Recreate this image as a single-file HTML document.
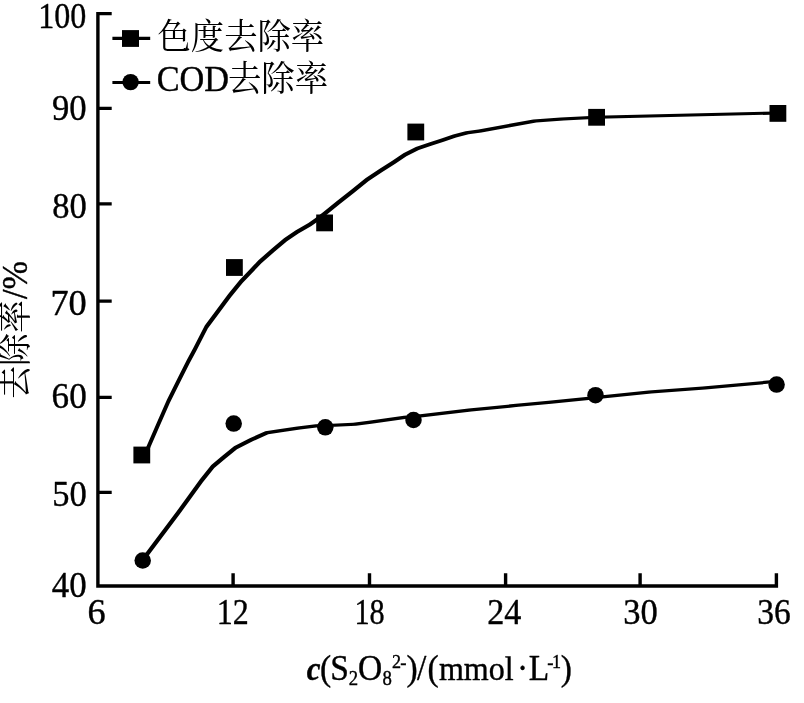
<!DOCTYPE html>
<html lang="zh">
<head>
<meta charset="utf-8">
<title>去除率</title>
<style>
html,body{margin:0;padding:0;background:#fff;}
body{width:804px;height:703px;overflow:hidden;}
svg{display:block;}
text{font-family:"Liberation Serif","Noto Serif CJK SC",serif;font-size:100px;fill:#000;}
.l{stroke:#000;stroke-width:1.1px;stroke-linejoin:round;}
</style>
</head>
<body>
<svg width="804" height="703" viewBox="0 0 804 703">
<rect width="804" height="703" fill="#fff"/>
<g fill="#000">
<path d="M96.20 12.10H99.60V587.70H96.20ZM96.20 584.30H778.10V587.70H96.20ZM97.90 12.10H111.70V15.30H97.90ZM97.90 106.70H111.70V109.90H97.90ZM97.90 202.30H111.70V205.50H97.90ZM97.90 299.50H111.70V302.70H97.90ZM97.90 395.70H111.70V398.90H97.90ZM97.90 490.70H111.70V493.90H97.90ZM231.40 573.30H234.80V586.00H231.40ZM367.80 573.30H371.20V586.00H367.80ZM503.90 573.30H507.30V586.00H503.90ZM638.40 573.30H641.80V586.00H638.40ZM774.70 573.30H778.10V586.00H774.70Z"/>
<path d="M143.40 453.50L147.00 445.30L150.00 445.30L150.00 448.30L146.40 456.50L143.40 456.50ZM147.00 445.30L156.90 422.50L159.90 422.50L159.90 425.50L150.00 448.30L147.00 448.30ZM156.90 422.50L166.90 399.80L169.90 399.80L169.90 402.80L159.90 425.50L156.90 425.50ZM166.90 399.80L177.60 378.30L180.60 378.30L180.60 381.30L169.90 402.80L166.90 402.80ZM177.60 378.30L186.80 360.00L189.80 360.00L189.80 363.00L180.60 381.30L177.60 381.30ZM186.80 360.00L193.40 347.70L196.40 347.70L196.40 350.70L189.80 363.00L186.80 363.00ZM193.40 347.70L204.80 325.40L207.80 325.40L207.80 328.40L196.40 350.70L193.40 350.70ZM204.80 325.40L215.40 311.20L218.40 311.20L218.40 314.20L207.80 328.40L204.80 328.40ZM215.40 311.20L228.20 294.10L231.20 294.10L231.20 297.10L218.40 314.20L215.40 314.20ZM228.20 294.10L239.60 279.90L242.60 279.90L242.60 282.90L231.20 297.10L228.20 297.10ZM239.60 279.90L245.60 273.80L248.60 273.80L248.60 276.80L242.60 282.90L239.60 282.90ZM245.60 273.80L258.40 260.30L261.40 260.30L261.40 263.30L248.60 276.80L245.60 276.80ZM258.40 260.30L271.20 249.00L274.20 249.00L274.20 252.00L261.40 263.30L258.40 263.30ZM271.20 249.00L284.00 238.30L287.00 238.30L287.00 241.30L274.20 252.00L271.20 252.00ZM284.00 238.30L295.40 230.50L298.40 230.50L298.40 233.50L287.00 241.30L284.00 241.30ZM295.40 230.50L308.40 222.90L311.40 222.90L311.40 225.90L298.40 233.50L295.40 233.50ZM308.40 222.90L315.50 218.00L318.50 218.00L318.50 221.00L311.40 225.90L308.40 225.90ZM315.50 218.00L322.70 212.40L325.70 212.40L325.70 215.40L318.50 221.00L315.50 221.00ZM322.70 212.40L336.90 201.00L339.90 201.00L339.90 204.00L325.70 215.40L322.70 215.40ZM336.90 201.00L351.20 189.70L354.20 189.70L354.20 192.70L339.90 204.00L336.90 204.00ZM351.20 189.70L365.40 178.30L368.40 178.30L368.40 181.30L354.20 192.70L351.20 192.70ZM365.40 178.30L379.30 168.90L382.30 168.90L382.30 171.90L368.40 181.30L365.40 181.30ZM379.30 168.90L392.30 160.70L395.30 160.70L395.30 163.70L382.30 171.90L379.30 171.90ZM392.30 160.70L403.40 153.30L406.40 153.30L406.40 156.30L395.30 163.70L392.30 163.70ZM403.40 153.30L415.80 147.10L418.80 147.10L418.80 150.10L406.40 156.30L403.40 156.30ZM415.80 147.10L428.30 142.70L431.30 142.70L431.30 145.70L418.80 150.10L415.80 150.10ZM428.30 142.70L440.70 138.80L443.70 138.80L443.70 141.80L431.30 145.70L428.30 145.70ZM440.70 138.80L453.10 134.60L456.10 134.60L456.10 137.60L443.70 141.80L440.70 141.80ZM453.10 134.60L465.60 131.20L468.60 131.20L468.60 134.20L456.10 137.60L453.10 137.60ZM465.60 131.20L478.50 129.40L481.50 129.40L481.50 132.40L468.60 134.20L465.60 134.20ZM478.50 129.40L505.90 124.40L508.90 124.40L508.90 127.40L481.50 132.40L478.50 132.40ZM505.90 124.40L533.30 119.40L536.30 119.40L536.30 122.40L508.90 127.40L505.90 127.40ZM533.30 119.40L560.70 117.50L563.70 117.50L563.70 120.50L536.30 122.40L533.30 122.40ZM560.70 117.50L595.10 115.80L598.10 115.80L598.10 118.80L563.70 120.50L560.70 120.50ZM595.10 115.80L776.40 111.50L779.40 111.50L779.40 114.50L598.10 118.80L595.10 118.80Z"/>
<path d="M140.80 559.00L146.30 551.70L149.30 551.70L149.30 554.70L143.80 562.00L140.80 562.00ZM146.30 551.70L176.90 511.00L179.90 511.00L179.90 514.00L149.30 554.70L146.30 554.70ZM176.90 511.00L188.50 495.00L191.50 495.00L191.50 498.00L179.90 514.00L176.90 514.00ZM188.50 495.00L199.90 479.20L202.90 479.20L202.90 482.20L191.50 498.00L188.50 498.00ZM199.90 479.20L211.30 465.10L214.30 465.10L214.30 468.10L202.90 482.20L199.90 482.20ZM211.30 465.10L222.60 455.40L225.60 455.40L225.60 458.40L214.30 468.10L211.30 468.10ZM222.60 455.40L234.00 446.20L237.00 446.20L237.00 449.20L225.60 458.40L222.60 458.40ZM234.00 446.20L249.70 438.30L252.70 438.30L252.70 441.30L237.00 449.20L234.00 449.20ZM249.70 438.30L265.30 431.20L268.30 431.20L268.30 434.20L252.70 441.30L249.70 441.30ZM265.30 431.20L278.50 429.30L281.50 429.30L281.50 432.30L268.30 434.20L265.30 434.20ZM278.50 429.30L297.20 426.40L300.20 426.40L300.20 429.40L281.50 432.30L278.50 432.30ZM297.20 426.40L315.60 424.20L318.60 424.20L318.60 427.20L300.20 429.40L297.20 429.40ZM315.60 424.20L332.00 423.70L335.00 423.70L335.00 426.70L318.60 427.20L315.60 427.20ZM332.00 423.70L353.10 422.70L356.10 422.70L356.10 425.70L335.00 426.70L332.00 426.70ZM353.10 422.70L368.50 420.80L371.50 420.80L371.50 423.80L356.10 425.70L353.10 425.70ZM368.50 420.80L403.90 415.80L406.90 415.80L406.90 418.80L371.50 423.80L368.50 423.80ZM403.90 415.80L420.10 414.20L423.10 414.20L423.10 417.20L406.90 418.80L403.90 418.80ZM420.10 414.20L468.50 408.60L471.50 408.60L471.50 411.60L423.10 417.20L420.10 417.20ZM468.50 408.60L513.20 404.10L516.20 404.10L516.20 407.10L471.50 411.60L468.50 411.60ZM513.20 404.10L548.50 400.80L551.50 400.80L551.50 403.80L516.20 407.10L513.20 407.10ZM548.50 400.80L585.80 397.10L588.80 397.10L588.80 400.10L551.50 403.80L548.50 403.80ZM585.80 397.10L602.20 395.20L605.20 395.20L605.20 398.20L588.80 400.10L585.80 400.10ZM602.20 395.20L648.50 390.60L651.50 390.60L651.50 393.60L605.20 398.20L602.20 398.20ZM648.50 390.60L702.50 386.40L705.50 386.40L705.50 389.40L651.50 393.60L648.50 393.60ZM702.50 386.40L767.20 380.60L770.20 380.60L770.20 383.60L705.50 389.40L702.50 389.40ZM767.20 380.60L775.10 379.90L778.10 379.90L778.10 382.90L770.20 383.60L767.20 383.60Z"/>
</g>
<g fill="#000">
<rect x="133.4" y="446.6" width="16.8" height="16.8"/><rect x="226.0" y="259.1" width="16.8" height="16.8"/><rect x="316.2" y="214.5" width="16.8" height="16.8"/><rect x="407.4" y="123.6" width="16.8" height="16.8"/><rect x="588.2" y="108.9" width="16.8" height="16.8"/><rect x="769.5" y="105.0" width="16.8" height="16.8"/><circle cx="142.7" cy="560.5" r="8.25"/><circle cx="233.7" cy="423.6" r="8.25"/><circle cx="325.3" cy="427.3" r="8.25"/><circle cx="413.5" cy="420.0" r="8.25"/><circle cx="595.5" cy="395.2" r="8.25"/><circle cx="776.6" cy="384.6" r="8.25"/>
</g>
<g stroke="#000" stroke-width="3.2"><path d="M112.4 38.4H150.2M112.4 82.5H150.2"/></g>
<rect x="122" y="30.1" width="17" height="16.8"/>
<circle cx="130.6" cy="82.1" r="8.2"/>
<text class="l" transform="matrix(0.3204 0 0 0.3650 38.32 27.50)">100</text>
<text class="l" transform="matrix(0.3462 0 0 0.3650 51.96 120.30)">90</text>
<text class="l" transform="matrix(0.3446 0 0 0.3650 52.22 218.10)">80</text>
<text class="l" transform="matrix(0.3629 0 0 0.3650 50.46 314.50)">70</text>
<text class="l" transform="matrix(0.3511 0 0 0.3650 51.60 408.30)">60</text>
<text class="l" transform="matrix(0.3444 0 0 0.3650 52.23 505.50)">50</text>
<text class="l" transform="matrix(0.3479 0 0 0.3650 51.80 597.10)">40</text>
<text class="l" transform="matrix(0.3628 0 0 0.3650 87.45 623.60)">6</text>
<text class="l" transform="matrix(0.3200 0 0 0.3650 216.72 623.60)">12</text>
<text class="l" transform="matrix(0.3023 0 0 0.3650 354.38 623.60)">18</text>
<text class="l" transform="matrix(0.3415 0 0 0.3650 487.23 623.60)">24</text>
<text class="l" transform="matrix(0.3451 0 0 0.3650 623.37 623.60)">30</text>
<text class="l" transform="matrix(0.3348 0 0 0.3650 757.33 623.60)">36</text>
<text transform="matrix(0.3335 0 0 0.3500 157.50 49.20)">色度去除率</text>
<text class="l" transform="matrix(0.3429 0 0 0.365 0 91.2)"><tspan x="457.1" y="0.0" style="font-size:100.0px;">COD</tspan><tspan x="664.7" y="0.5" style="font-size:97.4px;stroke:none">去除率</tspan></text>
<text class="l" transform="matrix(0.335 0 0 0.36 0 679.6)"><tspan x="915.8" y="0.0" style="font-size:92.4px;font-style:italic;font-weight:bold">c</tspan><tspan x="955.4" y="0.0" style="font-size:100.0px;">(</tspan><tspan x="985.7" y="0.0" style="font-size:100.0px;">S</tspan><tspan x="1040.7" y="13.9" style="font-size:56.0px;">2</tspan><tspan x="1068.5" y="0.0" style="font-size:100.0px;">O</tspan><tspan x="1141.5" y="13.6" style="font-size:56.0px;">8</tspan><tspan x="1170.5" y="-32.2" style="font-size:54.0px;">2</tspan><tspan x="1195.0" y="-30.6" style="font-size:56.0px;">-</tspan><tspan x="1213.4" y="0.0" style="font-size:100.0px;">)</tspan><tspan x="1244.8" y="0.0" style="font-size:100.0px;">/</tspan><tspan x="1276.4" y="0.0" style="font-size:100.0px;">(</tspan><tspan x="1310.3" y="0.0" style="font-size:95.7px;">mmol</tspan><tspan x="1543.6" y="1.7" style="font-size:100.0px;">·</tspan><tspan x="1578.5" y="0.0" style="font-size:100.0px;">L</tspan><tspan x="1633.8" y="-30.6" style="font-size:56.0px;">-</tspan><tspan x="1647.5" y="-33.3" style="font-size:54.0px;">1</tspan><tspan x="1674.0" y="0.0" style="font-size:100.0px;">)</tspan></text>
<text class="l" transform="matrix(0 -0.3292 0.35 0 26.8 400.0)"><tspan x="3.5" y="0.0" style="font-size:100.0px;stroke:none">去除率</tspan><tspan x="306.8" y="1.1" style="font-size:104.0px;">/%</tspan></text>
</svg>
</body>
</html>
